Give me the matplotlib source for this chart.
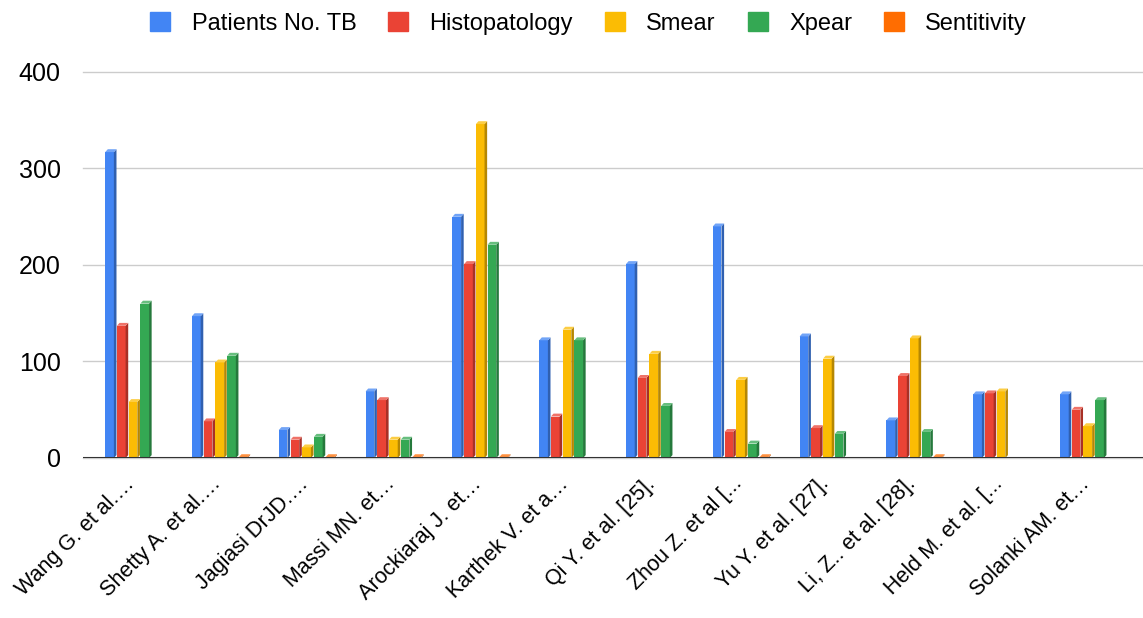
import numpy as np
import matplotlib.pyplot as plt
import matplotlib.transforms as mtransforms
from matplotlib.patches import Patch

plt.rcParams['font.family'] = ['Liberation Sans', 'DejaVu Sans']

studies = ['Wang G. et al.…', 'Shetty A. et al.…', 'Jagiasi DrJD.…', 'Massi MN. et…',
           'Arockiaraj J. et…', 'Karthek V. et a…', 'Qi Y. et al. [25].', 'Zhou Z. et al [...',
           'Yu Y. et al. [27].', 'Li, Z.. et al. [28].', 'Held M. et al. [...', 'Solanki AM. et…']
patients = [317, 147, 29, 69, 250, 122, 201, 240, 126, 39, 66, 66]
histo = [137, 38, 19, 60, 201, 43, 83, 27, 31, 85, 67, 50]
smear = [58, 99, 11, 19, 346, 133, 108, 81, 103, 124, 69, 33]
xpear = [160, 106, 22, 19, 221, 122, 54, 15, 25, 27, np.nan, 60]
sens = [np.nan, 0.9, 0.9, 0.9, 0.9, np.nan, np.nan, 0.9, np.nan, 0.9, np.nan, np.nan]

series = [('Patients No. TB', patients), ('Histopatology', histo), ('Smear', smear),
          ('Xpear', xpear), ('Sentitivity', sens)]
colors = ['#4285F4', '#EA4335', '#FBBC04', '#34A853', '#FF6D01']


def shade(c, f):
    r, g, b = [int(c[i:i + 2], 16) / 255 for i in (1, 3, 5)]
    if f < 1:
        return (r * f, g * f, b * f)
    return (r + (1 - r) * (f - 1), g + (1 - g) * (f - 1), b + (1 - b) * (f - 1))


fig = plt.figure(figsize=(11.43, 6.18), dpi=100)
ax = fig.add_axes([0.0726, 0.2589, 0.9274, 0.6246])

x = np.arange(len(studies))
step = 0.135
fw = 0.10
sw = step - fw - 0.005
dy = 3.0
for k, (name, vals) in enumerate(series):
    pos = x - 2 * step + k * step - fw / 2
    vals = np.array(vals, dtype=float)
    c = colors[k]
    for p, h in zip(pos, vals):
        if np.isnan(h):
            continue
        ax.fill([p, p + fw, p + fw, p], [0, 0, h, h], color=c, lw=0, zorder=3)
        ax.fill([p + fw, p + fw + sw, p + fw + sw, p + fw], [0, dy, h + dy, h],
                color=shade(c, 0.72), lw=0, zorder=3)
        ax.fill([p, p + fw, p + fw + sw, p + sw], [h, h, h + dy, h + dy],
                color=shade(c, 1.25), lw=0, zorder=3)

ax.set_xlim(-0.576, 11.636)
ax.set_ylim(0, 400)
ax.set_yticks([0, 100, 200, 300, 400])
ax.grid(axis='y', color='#cccccc', lw=1, zorder=0)
ax.set_axisbelow(True)
for gl in ax.get_ygridlines():
    gl.set_clip_on(False)
ax.axhline(0, color='#333333', lw=1.5, zorder=4)
ax.axhspan(-4, 0, color='#eeeeee', lw=0, zorder=1)
for s in ax.spines.values():
    s.set_visible(False)
ax.tick_params(length=0)
ax.tick_params(axis='y', labelsize=18, pad=16)
ax.set_xticks(x)
ax.set_xticklabels(studies, rotation=45, ha='right', rotation_mode='anchor', fontsize=15.5)
ax.tick_params(axis='x', pad=11)
shift = mtransforms.ScaledTranslation(-9 / 100, 0, fig.dpi_scale_trans)
for lbl in ax.get_xticklabels():
    lbl.set_transform(lbl.get_transform() + shift)

handles = [Patch(color=c, label=n) for c, (n, _) in zip(colors, series)]
fig.legend(handles=handles, loc='center', bbox_to_anchor=(0.515, 0.962), ncol=5, frameon=False,
           fontsize=17, handlelength=0.85, handleheight=0.85, columnspacing=1.35, handletextpad=0.9)

fig.savefig('out.png', dpi=100)
